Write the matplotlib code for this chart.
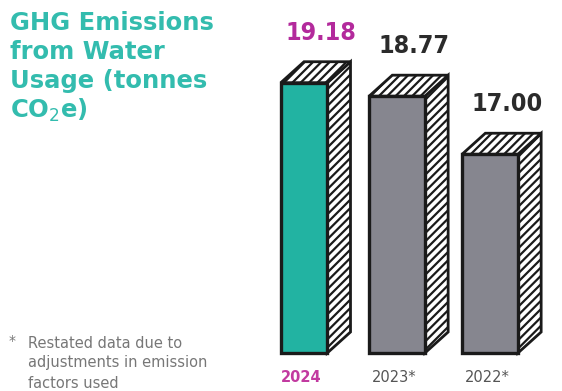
import matplotlib
matplotlib.use("Agg")
import matplotlib.pyplot as plt
from matplotlib.patches import Polygon

# ---- data ----
years = ["2024", "2023*", "2022*"]
values = [19.18, 18.77, 17.00]
value_labels = ["19.18", "18.77", "17.00"]
title_lines = ["GHG Emissions", "from Water", "Usage (tonnes", "CO$_2$e)"]
footnote = ["Restated data due to", "adjustments in emission", "factors used"]

# ---- style ----
front_colors = ["#22b3a2", "#86868f", "#86868f"]
value_colors = ["#b32a9c", "#2b2b2b", "#2b2b2b"]
year_colors = ["#c23aa0", "#555555", "#555555"]
bar_widths = [0.5, 0.6, 0.6]
teal = "#33bcae"

W, H, DPI = 562, 391, 100
fig = plt.figure(figsize=(W / DPI, H / DPI), dpi=DPI)
ax = fig.add_axes([0, 0, 1, 1])
ax.set_axis_off()

px_per_unit = 32.8
base = 10.94
base_px = 353  # pixel row (from top) of bar base
ax.set_ylim(base - (H - base_px) / px_per_unit, base + base_px / px_per_unit)
spacing = 93.0
c0 = 304
ax.set_xlim(-c0 / spacing, (W - c0) / spacing)

plt.rcParams["hatch.linewidth"] = 1.6

xs = list(range(len(values)))
dx = 0.25
dy = 21 / px_per_unit

heights = [v - base for v in values]
bars = ax.bar(xs, heights, bottom=base, width=bar_widths, color=front_colors,
              edgecolor="#1a1a1a", linewidth=2.4, zorder=3)

for x, v, w in zip(xs, values, bar_widths):
    xl = x - w / 2
    xr = x + w / 2
    side = Polygon([(xr, base), (xr, v), (xr + dx, v + dy), (xr + dx, base + dy)],
                   closed=True, facecolor="white", edgecolor="#1a1a1a",
                   hatch="////", linewidth=2.0, zorder=2)
    top = Polygon([(xl, v), (xr, v), (xr + dx, v + dy), (xl + dx, v + dy)],
                  closed=True, facecolor="white", edgecolor="#1a1a1a",
                  hatch="////", linewidth=2.0, zorder=2)
    ax.add_patch(side)
    ax.add_patch(top)

for x, v, lab, col in zip(xs, values, value_labels, value_colors):
    ax.annotate(lab, (x + 0.18, v), xytext=(0, 36), textcoords="offset points",
                ha="center", va="center", fontsize=18, fontweight="bold",
                fontstretch="condensed", color=col, family="DejaVu Sans")

for x, yr, col in zip(xs, years, year_colors):
    ax.text(x - 0.03, base - 24 / px_per_unit, yr, ha="center", va="center",
            fontsize=10.5, fontweight="bold" if x == 0 else "normal", color=col)

# title
for i, line in enumerate(title_lines):
    fig.text(10 / W, 1 - (23 + 29 * i) / H, line, ha="left", va="center",
             fontsize=17.5, fontweight="heavy", color=teal, family="DejaVu Sans")

# footnote
fig.text(9 / W, 1 - 341 / H, "*", ha="left", va="center", fontsize=10, color="#777777")
for i, line in enumerate(footnote):
    fig.text(28 / W, 1 - (343 + 20 * i) / H, line, ha="left", va="center",
             fontsize=10.5, color="#777777")

fig.savefig("out.png", dpi=DPI)
